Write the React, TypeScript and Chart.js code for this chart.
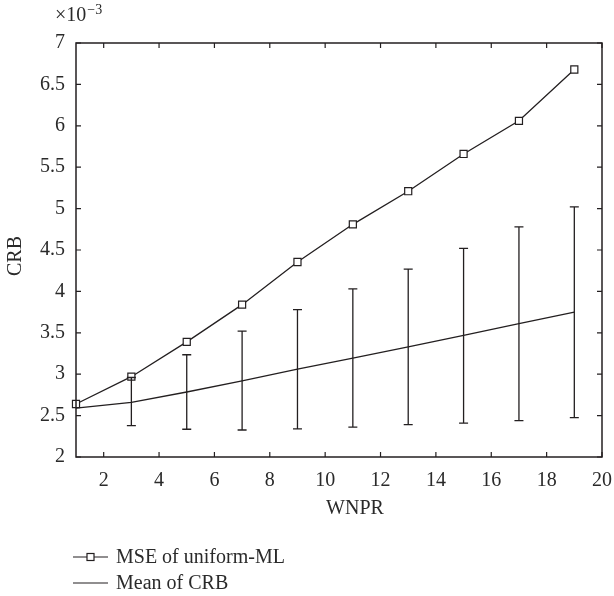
import React, { useEffect, useRef } from "react";
import { Chart, registerables } from "chart.js";

Chart.register(...registerables);

// Values are in units of 1e-3
const wnpr = [1, 3, 5, 7, 9, 11, 13, 15, 17, 19];
const mseUniformML = [2.64, 2.97, 3.39, 3.84, 4.355, 4.81, 5.21, 5.66, 6.06, 6.68];
const crbMean = [2.59, 2.66, 2.785, 2.92, 3.06, 3.195, 3.33, 3.47, 3.61, 3.75];
const crbUpper = [null, 2.96, 3.235, 3.52, 3.78, 4.03, 4.27, 4.52, 4.78, 5.02];
const crbLower = [null, 2.38, 2.335, 2.326, 2.34, 2.36, 2.39, 2.41, 2.44, 2.475];
const xTickValues = [2, 4, 6, 8, 10, 12, 14, 16, 18, 20];
const yTickValues = [2, 2.5, 3, 3.5, 4, 4.5, 5, 5.5, 6, 6.5, 7];
const seriesLabels = ["MSE of uniform-ML", "Mean of CRB"];
const xTitle = "WNPR";
const yTitle = "CRB";
const exponentBase = "\u00d710";
const exponentPower = "\u22123";

const FONT = "'Liberation Serif', 'DejaVu Serif', serif";
const INK = "#231f20";
const TEXT = "#2a2a2a";
const FS = 20;

export default function App() {
  const canvasRef = useRef<HTMLCanvasElement | null>(null);

  useEffect(() => {
    const canvas = canvasRef.current;
    if (!canvas) return;

    const framePlugin = {
      id: "frameAndExtras",
      afterDatasetsDraw(chart: any) {
        const ctx = chart.ctx;
        const xs = chart.scales.x;
        const ys = chart.scales.y;
        ctx.save();
        ctx.strokeStyle = INK;
        ctx.lineWidth = 1.3;
        for (let i = 0; i < wnpr.length; i++) {
          const u = crbUpper[i];
          const l = crbLower[i];
          if (u == null || l == null) continue;
          const px = xs.getPixelForValue(wnpr[i]);
          const pu = ys.getPixelForValue(u);
          const pl = ys.getPixelForValue(l);
          ctx.beginPath();
          ctx.moveTo(px, pu);
          ctx.lineTo(px, pl);
          ctx.moveTo(px - 4.5, pu);
          ctx.lineTo(px + 4.5, pu);
          ctx.moveTo(px - 4.5, pl);
          ctx.lineTo(px + 4.5, pl);
          ctx.stroke();
        }
        ctx.restore();
      },
      afterDraw(chart: any) {
        const ctx = chart.ctx;
        const a = chart.chartArea;
        const xs = chart.scales.x;
        const ys = chart.scales.y;
        ctx.save();
        ctx.strokeStyle = INK;
        ctx.lineWidth = 1.5;
        ctx.strokeRect(a.left, a.top, a.right - a.left, a.bottom - a.top);
        ctx.lineWidth = 1.2;
        const tl = 5;
        ctx.beginPath();
        xTickValues.forEach((v) => {
          const px = xs.getPixelForValue(v);
          ctx.moveTo(px, a.bottom);
          ctx.lineTo(px, a.bottom - tl);
          ctx.moveTo(px, a.top);
          ctx.lineTo(px, a.top + tl);
        });
        yTickValues.forEach((v) => {
          const py = ys.getPixelForValue(v);
          ctx.moveTo(a.left, py);
          ctx.lineTo(a.left + tl, py);
          ctx.moveTo(a.right, py);
          ctx.lineTo(a.right - tl, py);
        });
        ctx.stroke();

        ctx.fillStyle = TEXT;
        // axis titles
        ctx.font = `${FS}px ${FONT}`;
        ctx.textAlign = "center";
        ctx.textBaseline = "middle";
        ctx.fillText(xTitle, 355, 509);
        ctx.save();
        ctx.translate(15.5, 256);
        ctx.rotate(-Math.PI / 2);
        ctx.fillText(yTitle, 0, 0);
        ctx.restore();

        // exponent label
        ctx.textBaseline = "alphabetic";
        ctx.textAlign = "left";
        ctx.font = `${FS}px ${FONT}`;
        ctx.fillText(exponentBase, 55, 21);
        const w = ctx.measureText(exponentBase).width;
        ctx.font = `14px ${FONT}`;
        ctx.fillText(exponentPower, 55 + w + 1, 14);

        // legend
        const rows = [557, 583];
        ctx.font = `${FS}px ${FONT}`;
        ctx.textBaseline = "middle";
        rows.forEach((ry, i) => {
          ctx.strokeStyle = INK;
          ctx.lineWidth = 1.2;
          ctx.beginPath();
          ctx.moveTo(73, ry);
          ctx.lineTo(108, ry);
          ctx.stroke();
          if (i === 0) {
            ctx.fillStyle = "#fff";
            ctx.fillRect(87, ry - 3.5, 7, 7);
            ctx.strokeRect(87, ry - 3.5, 7, 7);
          }
          ctx.fillStyle = TEXT;
          ctx.fillText(seriesLabels[i], 116, ry + 1);
        });
        ctx.restore();
      },
    };

    const chart = new Chart(canvas, {
      type: "line",
      data: {
        datasets: [
          {
            label: seriesLabels[0],
            data: wnpr.map((x, i) => ({ x, y: mseUniformML[i] })),
            borderColor: INK,
            borderWidth: 1.3,
            pointStyle: "rect",
            pointRadius: 5,
            pointBorderWidth: 1.2,
            pointBackgroundColor: "#fff",
            pointBorderColor: INK,
            tension: 0,
            clip: false,
          },
          {
            label: seriesLabels[1],
            data: wnpr.map((x, i) => ({ x, y: crbMean[i] })),
            borderColor: INK,
            borderWidth: 1.3,
            pointRadius: 0,
            tension: 0,
            clip: false,
          },
        ],
      },
      options: {
        responsive: false,
        animation: false,
        layout: { padding: { left: 0, top: 43, right: 12, bottom: 67 } },
        plugins: {
          legend: { display: false },
          tooltip: { enabled: false },
        },
        scales: {
          x: {
            type: "linear",
            min: 1,
            max: 20,
            grid: { display: false, drawTicks: false },
            border: { display: false },
            afterBuildTicks: (s: any) => {
              s.ticks = xTickValues.map((v) => ({ value: v }));
            },
            afterFit: (s: any) => {
              s.height = 72;
              s.paddingLeft = 0;
              s.paddingRight = 0;
            },
            ticks: {
              padding: 12,
              color: TEXT,
              font: { family: FONT, size: FS },
              maxRotation: 0,
              autoSkip: false,
              callback: (v: any) => String(v),
            },
            title: { display: false, text: xTitle },
          },
          y: {
            type: "linear",
            min: 2,
            max: 7,
            grid: { display: false, drawTicks: false },
            border: { display: false },
            afterBuildTicks: (s: any) => {
              s.ticks = yTickValues.map((v) => ({ value: v }));
            },
            afterFit: (s: any) => {
              s.width = 76;
              s.paddingTop = 0;
              s.paddingBottom = 0;
            },
            ticks: {
              padding: 11,
              color: TEXT,
              font: { family: FONT, size: FS },
              autoSkip: false,
              callback: (v: any) => String(v),
            },
            title: { display: false, text: yTitle },
          },
        },
      },
      plugins: [framePlugin],
    } as any);

    return () => {
      chart.destroy();
    };
  }, []);

  return (
    <div style={{ position: "absolute", left: 0, top: 0, width: 614, height: 596, background: "#fff" }}>
      <canvas ref={canvasRef} width={614} height={596} style={{ width: 614, height: 596 }} />
    </div>
  );
}
